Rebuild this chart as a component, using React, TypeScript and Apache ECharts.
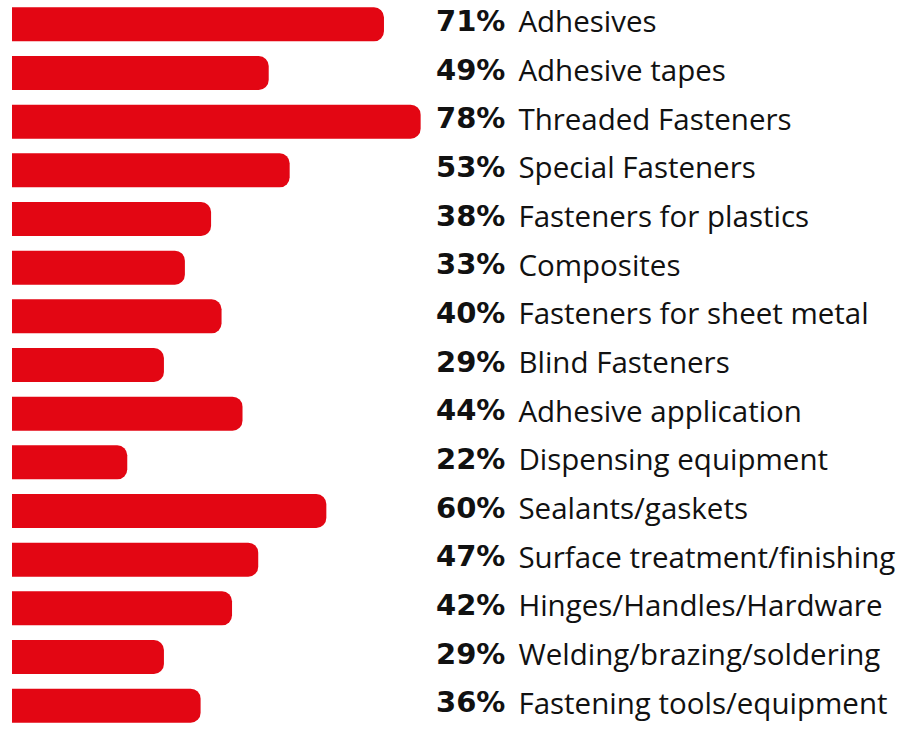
import React, { useEffect, useRef } from 'react';
import * as echarts from 'echarts';

const categories = [
  'Adhesives',
  'Adhesive tapes',
  'Threaded Fasteners',
  'Special Fasteners',
  'Fasteners for plastics',
  'Composites',
  'Fasteners for sheet metal',
  'Blind Fasteners',
  'Adhesive application',
  'Dispensing equipment',
  'Sealants/gaskets',
  'Surface treatment/finishing',
  'Hinges/Handles/Hardware',
  'Welding/brazing/soldering',
  'Fastening tools/equipment',
];
const values = [71, 49, 78, 53, 38, 33, 40, 29, 44, 22, 60, 47, 42, 29, 36];

export default function App() {
  const ref = useRef<HTMLDivElement>(null);
  useEffect(() => {
    const chart = echarts.init(ref.current!, null, { renderer: 'svg' });
    chart.setOption({
      animation: false,
      backgroundColor: '#ffffff',
      grid: { left: 12, top: -0.6, width: 523.9, height: 739.3 },
      xAxis: { type: 'value', min: 0, max: 100, show: false },
      yAxis: {
        type: 'category',
        data: categories,
        inverse: true,
        axisLine: { show: false },
        axisTick: { show: false },
        splitLine: { show: false },
        axisLabel: {
          interval: 0,
          align: 'left',
          margin: -424,
          padding: [0, 0, 7, 0],
          formatter: (v: string, i: number) => `{p|${values[i]}%}{n|${v}}`,
          rich: {
            p: { fontFamily: 'DejaVu Sans', fontWeight: 'bold', fontSize: 29, color: '#111111', padding: [0, 13, 0, 0] },
            n: { fontFamily: 'Open Sans', fontWeight: 400, fontSize: 29.5, color: '#111111' },
          },
        },
      },
      series: [
        {
          type: 'bar',
          data: values,
          barWidth: 34,
          itemStyle: { color: '#E30613', borderRadius: [0, 10, 10, 0] },
        },
      ],
    });
    return () => chart.dispose();
  }, []);
  return (
    <div
      ref={ref}
      style={{ position: 'fixed', left: 0, top: 0, width: 903, height: 730, background: '#fff' }}
    />
  );
}
